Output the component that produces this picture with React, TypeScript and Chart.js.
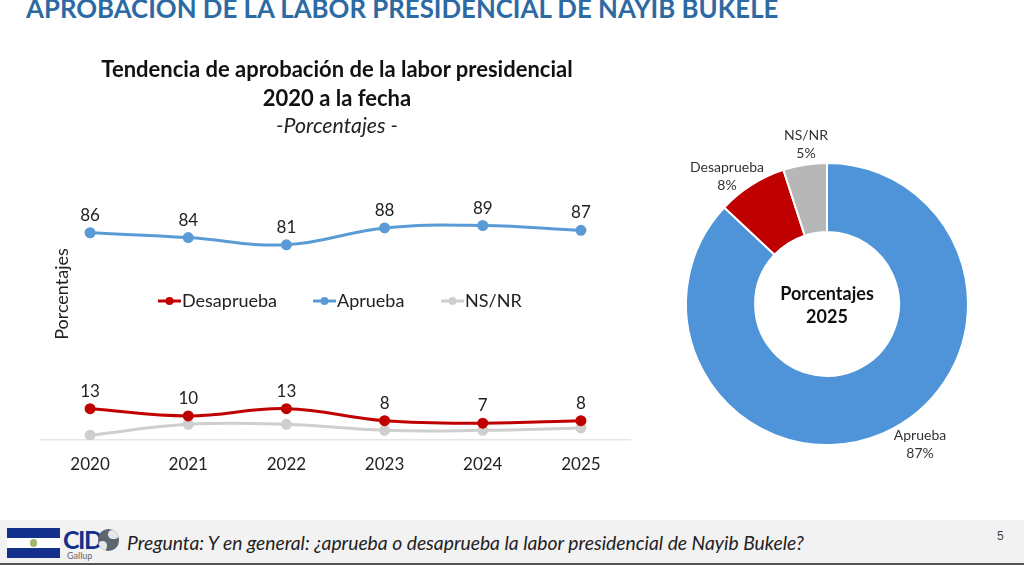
import { useEffect, useRef } from 'react';
import Chart from 'chart.js/auto';

const years = ['2020', '2021', '2022', '2023', '2024', '2025'];
const desaprueba = [13, 10, 13, 8, 7, 8];
const aprueba = [86, 84, 81, 88, 89, 87];
const nsnr = [2, 6.5, 6.5, 4, 4, 5];

const donutLabels = ['Aprueba', 'Desaprueba', 'NS/NR'];
const donutValues = [87, 8, 5];
const donutColors = ['#4f94d8', '#c00000', '#b7b7b7'];

const BLUE = '#5b9bd5';
const RED = '#c00000';
const GRAY = '#cfcfcf';
const FONT = 'Lato, "Open Sans", sans-serif';

// point labels, only on the two series that show them in the original
const pointLabels = {
  id: 'pointLabels',
  afterDatasetsDraw(chart: any) {
    const { ctx } = chart;
    ctx.save();
    ctx.font = `17px ${FONT}`;
    ctx.fillStyle = '#222';
    ctx.textAlign = 'center';
    [0, 1].forEach((idx) => {
      const ds = chart.data.datasets[idx];
      chart.getDatasetMeta(idx).data.forEach((pt: any, i: number) => {
        ctx.fillText(String(ds.data[i]), pt.x, pt.y - 12);
      });
    });
    ctx.restore();
  },
};

// legend sits in the middle of the plot, so draw it by hand
const midLegend = {
  id: 'midLegend',
  afterDraw(chart: any) {
    const { ctx } = chart;
    const starts = [158, 313, 441];
    const y = 301;
    ctx.save();
    ctx.font = `18px ${FONT}`;
    ctx.textBaseline = 'middle';
    chart.data.datasets.forEach((ds: any, i: number) => {
      const x = starts[i];
      ctx.strokeStyle = ds.borderColor;
      ctx.lineWidth = 3;
      ctx.beginPath();
      ctx.moveTo(x, y);
      ctx.lineTo(x + 23, y);
      ctx.stroke();
      ctx.fillStyle = ds.borderColor;
      ctx.beginPath();
      ctx.arc(x + 11.5, y, 4, 0, Math.PI * 2);
      ctx.fill();
      ctx.fillStyle = '#222';
      ctx.fillText(ds.label, x + 24, y);
    });
    // rotated y caption
    ctx.translate(62, 294);
    ctx.rotate(-Math.PI / 2);
    ctx.textAlign = 'center';
    ctx.font = `18px ${FONT}`;
    ctx.fillText('Porcentajes', 0, 0);
    ctx.restore();
  },
};

const donutText = {
  id: 'donutText',
  afterDraw(chart: any) {
    const { ctx } = chart;
    const arc = chart.getDatasetMeta(0).data[0];
    const cx = arc.x;
    const cy = arc.y;
    // offsets from the centre, labels were placed by hand in the original
    const offsets = [
      [93, 136],
      [-100, -132],
      [-21, -164],
    ];
    ctx.save();
    ctx.textAlign = 'center';
    ctx.fillStyle = '#333';
    ctx.font = `14px ${FONT}`;
    donutLabels.forEach((label, i) => {
      const [dx, dy] = offsets[i];
      ctx.fillText(label, cx + dx, cy + dy);
      ctx.fillText(donutValues[i] + '%', cx + dx, cy + dy + 18);
    });
    ctx.fillStyle = '#111';
    ctx.font = `bold 18px ${FONT}`;
    ctx.fillText('Porcentajes', cx, cy - 4);
    ctx.fillText('2025', cx, cy + 19);
    ctx.restore();
  },
};

export default function App() {
  const lineRef = useRef<HTMLCanvasElement>(null);
  const donutRef = useRef<HTMLCanvasElement>(null);

  useEffect(() => {
    if (!lineRef.current || !donutRef.current) return;

    const series = (label: string, data: number[], color: string) => ({
      label,
      data,
      borderColor: color,
      backgroundColor: color,
      borderWidth: 3,
      pointRadius: 4,
      pointHoverRadius: 4,
      tension: 0.4,
    });

    const line = new Chart(lineRef.current, {
      type: 'line',
      data: {
        labels: years,
        datasets: [
          series('Desaprueba', desaprueba, RED),
          series('Aprueba', aprueba, BLUE),
          series('NS/NR', nsnr, GRAY),
        ],
      },
      options: {
        animation: false,
        responsive: false,
        layout: { padding: { left: 41, right: 10, top: 199 } },
        plugins: { legend: { display: false }, tooltip: { enabled: false } },
        scales: {
          y: { display: false, min: 0, max: 100 },
          x: {
            offset: true,
            afterFit: (scale: any) => {
              scale.height = 40;
            },
            grid: { display: false, offset: true },
            border: { color: '#e6e6e6', width: 1.5 },
            ticks: { color: '#222', padding: 6, font: { family: FONT, size: 17 } },
          },
        },
      },
      plugins: [pointLabels, midLegend],
    });

    const donut = new Chart(donutRef.current, {
      type: 'doughnut',
      data: {
        labels: donutLabels,
        datasets: [
          {
            data: donutValues,
            backgroundColor: donutColors,
            borderColor: '#fff',
            borderWidth: 2,
          },
        ],
      },
      options: {
        animation: false,
        responsive: false,
        cutout: '51%',
        layout: { padding: 25 },
        plugins: { legend: { display: false }, tooltip: { enabled: false } },
      },
      plugins: [donutText],
    });

    return () => {
      line.destroy();
      donut.destroy();
    };
  }, []);

  const abs = (left: number, top: number, extra: object = {}) => ({
    position: 'absolute' as const,
    left,
    top,
    whiteSpace: 'nowrap' as const,
    fontFamily: FONT,
    ...extra,
  });

  return (
    <div style={{ position: 'fixed', left: 0, top: 0, width: 1024, height: 565, overflow: 'hidden', background: '#fff' }}>
      <div style={abs(26, -8, { fontSize: 25.8, fontWeight: 700, color: '#2d6aa3', lineHeight: '32px' })}>
        APROBACION DE LA LABOR PRESIDENCIAL DE NAYIB BUKELE
      </div>
      <canvas ref={lineRef} width={640} height={480} style={{ position: 'absolute', left: 0, top: 0, width: 640, height: 480 }} />
      <canvas ref={donutRef} width={334} height={368} style={{ position: 'absolute', left: 660, top: 120, width: 334, height: 368 }} />
      <div style={{ ...abs(37, 54, { width: 600, textAlign: 'center', fontSize: 22, fontWeight: 700, color: '#111', lineHeight: '29px' }) }}>
        Tendencia de aprobación de la labor presidencial
        <br />
        2020 a la fecha
      </div>
      <div style={abs(37, 112, { width: 600, textAlign: 'center', fontSize: 21.3, fontStyle: 'italic', color: '#222', lineHeight: '26px' })}>
        -Porcentajes -
      </div>

      <div style={{ position: 'absolute', left: 0, top: 520, width: 1024, height: 43, background: '#f2f2f2', borderBottom: '2px solid #555' }} />
      <div style={{ position: 'absolute', left: 7, top: 528, width: 53, height: 30, background: 'linear-gradient(#12308c 33%, #fff 33%, #fff 66%, #12308c 66%)' }} />
      <div style={{ position: 'absolute', left: 30, top: 539, width: 7, height: 8, borderRadius: 4, background: '#9fb56a' }} />
      <div style={abs(63, 524, { fontSize: 25, fontWeight: 700, color: '#12308c', lineHeight: '30px', letterSpacing: -1.5 })}>CID</div>
      <div style={{ position: 'absolute', left: 98, top: 529, width: 21, height: 22, borderRadius: 11, background: '#5c6670', overflow: 'hidden' }}>
        <div style={{ position: 'absolute', left: 10, top: 1, width: 11, height: 9, borderRadius: 5, background: '#e4e6e8' }} />
        <div style={{ position: 'absolute', left: 0, top: 12, width: 9, height: 10, borderRadius: 5, background: '#e4e6e8' }} />
      </div>
      <div style={abs(67, 551, { fontSize: 9, color: '#666', lineHeight: '10px' })}>Gallup</div>
      <div style={abs(127, 532, { fontSize: 19.3, fontStyle: 'italic', color: '#222', lineHeight: '22px' })}>
        Pregunta: Y en general: ¿aprueba o desaprueba la labor presidencial de Nayib Bukele?
      </div>
      <div style={abs(997, 529, { fontSize: 12, color: '#444', fontFamily: 'Liberation Sans' })}>5</div>
    </div>
  );
}
